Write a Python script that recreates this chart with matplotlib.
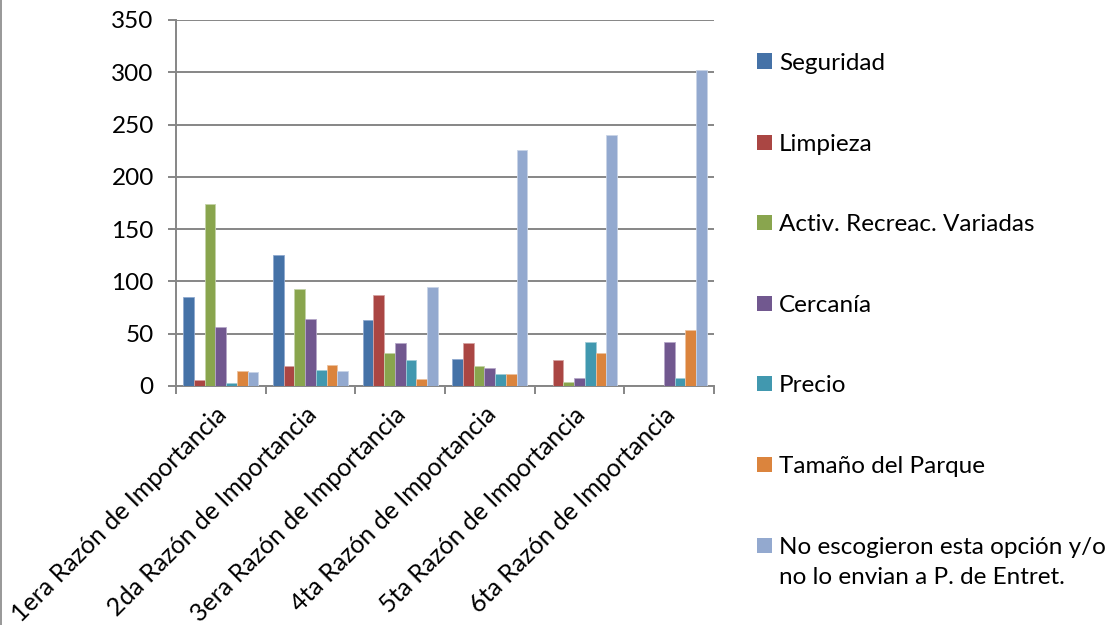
import matplotlib
matplotlib.use("Agg")
import matplotlib.pyplot as plt
from matplotlib.lines import Line2D
from matplotlib.patches import Rectangle
import numpy as np

categories = ["1era Razón de Importancia", "2da Razón de Importancia", "3era Razón de Importancia",
              "4ta Razón de Importancia", "5ta Razón de Importancia", "6ta Razón de Importancia"]
series_names = ["Seguridad", "Limpieza", "Activ. Recreac. Variadas", "Cercanía", "Precio",
                "Tamaño del Parque", "No escogieron esta opción y/o\nno lo envian a P. de Entret."]
seguridad = [85, 125, 63, 26, 0, 0]
limpieza = [6, 19, 87, 41, 25, 0]
activ = [174, 93, 32, 19, 4, 0]
cercania = [56, 64, 41, 17, 8, 42]
precio = [3, 15, 25, 11, 42, 8]
tamano = [14, 20, 7, 11, 32, 54]
no_escogieron = [13, 14, 95, 226, 240, 302]
yticks = [0, 50, 100, 150, 200, 250, 300, 350]

series = [seguridad, limpieza, activ, cercania, precio, tamano, no_escogieron]
colors = ["#4572A7", "#AA4643", "#89A54E", "#71588F", "#4198AF", "#DB843D", "#93A9CF"]
edges = ["#8EA9CF", "#D4A3A2", "#C3D3A6", "#B5A7C8", "#9FCBD7", "#EDC19E", "#C8D4E7"]

plt.rcParams['font.family'] = ['Lato', 'DejaVu Sans']
W, H = 1112, 625
fig = plt.figure(figsize=(W/100, H/100), dpi=100)
ax = fig.add_axes([176/W, 1-386/H, (714-176)/W, (386-20)/H])

n = len(series)
bw = 0.119
x = np.arange(len(categories))
for i, (vals, c, ec, name) in enumerate(zip(series, colors, edges, series_names)):
    pos = x + 0.5 + (i - (n-1)/2) * bw
    ax.bar(pos, vals, width=bw, color=c, edgecolor=ec, linewidth=0.6, label=name, zorder=3)

ax.set_xlim(0, len(categories))
ax.set_ylim(0, 350)
ax.set_yticks(yticks)
ax.yaxis.grid(True, color="#868686", linewidth=1.4, zorder=0)
ax.set_axisbelow(True)
for s in ["top", "right"]:
    ax.spines[s].set_visible(False)
for s in ["left", "bottom"]:
    ax.spines[s].set_color("#868686")
    ax.spines[s].set_linewidth(1.4)

ax.set_xticks(np.arange(len(categories)+1))
ax.set_xticklabels([])
ax.tick_params(axis='x', direction='out', length=6, width=1.4, color="#868686")
ax.tick_params(axis='y', direction='out', length=6, width=1.4, color="#868686", labelsize=17.5, pad=10)

for xi, lab in zip(x, categories):
    ax.text(xi + 0.5 - 0.067, -16, lab, rotation=45, ha='right', va='top', rotation_mode='anchor',
            fontsize=18, transform=ax.transData, clip_on=False)

# legend (manual, handle aligned with first text line)
leg_y = [61, 142, 222, 303, 383, 464, 545]
for name, c, yy in zip(series_names, colors, leg_y):
    fig.add_artist(Rectangle((757/W, 1-(yy+7.5)/H), 15/W, 15/H, facecolor=c, edgecolor='none',
                             transform=fig.transFigure))
    fig.text(779/W, 1-(yy-8)/H, name, ha='left', va='top', fontsize=17.5, linespacing=1.5)

fig.add_artist(Line2D([0.5/W, 0.5/W], [0, 1], color="#868686", linewidth=1.2,
                      transform=fig.transFigure))

fig.savefig("out.png", dpi=100)
